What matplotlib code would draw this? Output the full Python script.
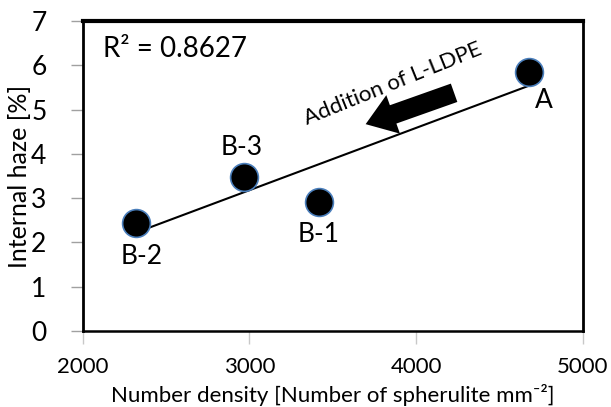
import numpy as np
import matplotlib
matplotlib.use('Agg')
import matplotlib.pyplot as plt
from matplotlib.patches import FancyArrowPatch

plt.rcParams['font.family'] = ['Lato', 'DejaVu Sans']

# data
samples = ['B-2', 'B-3', 'B-1', 'A']
density = [2322, 2965, 3416, 4679]       # number of spherulite mm-2
haze = [2.43, 3.47, 2.92, 5.84]          # internal haze %
label_x = [2354, 2952, 3416, 4769]
label_y = [1.68, 4.15, 2.19, 5.21]
r2_text = 'R\u00b2 = 0.8627'

fig = plt.figure(figsize=(6.11, 4.07), dpi=100)
ax = fig.add_axes([0.1353, 0.1867, 0.8184, 0.7617])

# linear trendline through the points
k, b = np.polyfit(density, haze, 1)
xl = np.array([min(density), max(density)])
ax.plot(xl, k * xl + b, color='black', lw=1.5, zorder=2)

ax.plot(density, haze, 'o', ms=20, mfc='black', mec='#4a7ebb', mew=1.2, zorder=3)

for s, lx, ly in zip(samples, label_x, label_y):
    ax.text(lx, ly, s, ha='center', va='center', fontsize=19)

ax.text(2120, 6.36, r2_text, ha='left', va='center', fontsize=20)

# arrow for L-LDPE addition
arr = FancyArrowPatch((4244, 5.40), (3682, 4.65),
                      arrowstyle='simple,head_length=1.5,head_width=2.1,tail_width=1.0',
                      mutation_scale=14, color='black', lw=0, zorder=4)
ax.add_patch(arr)
ax.text(3860, 5.57, 'Addition of L-LDPE', rotation=22, rotation_mode='anchor',
        ha='center', va='center', fontsize=16)

ax.set_xlim(2000, 5000)
ax.set_ylim(0, 7)
ax.set_xticks([2000, 3000, 4000, 5000])
ax.set_yticks(range(0, 8))
ax.tick_params(axis='y', direction='out', length=9, width=1, color='#a0a0a0',
               labelsize=19, pad=17)
ax.tick_params(axis='x', direction='out', length=9, width=1, color='#c8c8c8',
               labelsize=16, pad=10)

ax.spines['top'].set_linewidth(3)
ax.spines['right'].set_linewidth(2)
ax.spines['bottom'].set_linewidth(1.8)
ax.spines['left'].set_linewidth(2)

ax.set_ylabel('Internal haze [%]', fontsize=18, labelpad=0)
ax.set_xlabel('Number density [Number of spherulite mm\u207b\u00b2]', fontsize=16, labelpad=5)

plt.savefig('out.png', dpi=100)
